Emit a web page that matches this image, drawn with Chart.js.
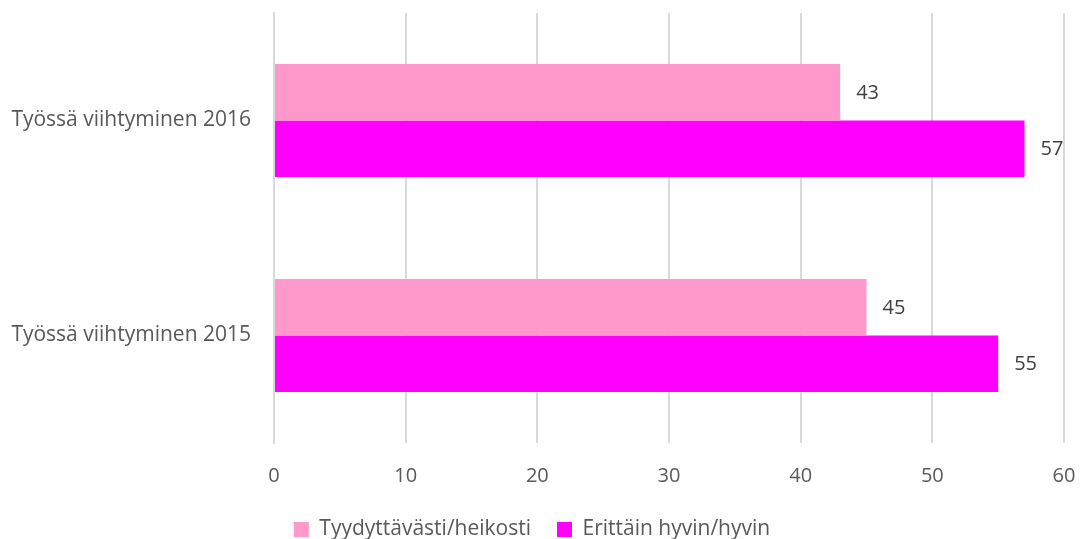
<!DOCTYPE html>
<html>
<head>
<meta charset="utf-8">
<script src="https://cdn.jsdelivr.net/npm/chart.js@4"></script>
<style>
  html, body { margin: 0; padding: 0; background: #fff; }
  #wrap { width: 1087px; height: 539px; }
</style>
</head>
<body>
<div id="wrap"><canvas id="myChart" width="1087" height="539"></canvas></div>
<script>
const categories = ["Työssä viihtyminen 2016", "Työssä viihtyminen 2015"];
const seriesNames = ["Tyydyttävästi/heikosti", "Erittäin hyvin/hyvin"];
const tyydyttavasti = [43, 45];
const erittainHyvin = [57, 55];
const xTicks = [0, 10, 20, 30, 40, 50, 60];

const textColor = "#595959";
const fontFamily = "'Open Sans', 'Noto Sans', sans-serif";

// draws the value next to the end of each bar
const barLabels = {
    id: "barLabels",
    afterDatasetsDraw(chart) {
        const ctx = chart.ctx;
        ctx.save();
        ctx.fillStyle = "#404040";
        ctx.font = "20px " + fontFamily;
        ctx.textAlign = "left";
        ctx.textBaseline = "middle";
        chart.data.datasets.forEach((ds, i) => {
            chart.getDatasetMeta(i).data.forEach((bar, j) => {
                ctx.fillText(String(ds.data[j]), bar.x + 16, bar.y + 1);
            });
        });
        ctx.restore();
    },
};

Chart.defaults.font.family = fontFamily;
Chart.defaults.color = textColor;

new Chart(document.getElementById("myChart"), {
    type: "bar",
    data: {
        labels: categories,
        datasets: [
            {
                label: seriesNames[0],
                data: tyydyttavasti,
                backgroundColor: "#FF99CC",
                borderWidth: 0,
            },
            {
                label: seriesNames[1],
                data: erittainHyvin,
                backgroundColor: "#FF00FF",
                borderWidth: 0,
            },
        ],
    },
    options: {
        indexAxis: "y",
        responsive: false,
        animation: false,
        categoryPercentage: 0.526,
        barPercentage: 1,
        layout: { padding: { top: 13, right: 23, left: 0, bottom: -11 } },
        scales: {
            x: {
                min: 0,
                max: 60,
                afterBuildTicks(axis) {
                    axis.ticks = xTicks.map((v) => ({ value: v }));
                },
                afterFit(axis) {
                    axis.paddingLeft = 0;
                    axis.paddingRight = 0;
                    axis.height = 50;
                },
                grid: { color: "#D9D9D9", lineWidth: 2, drawTicks: false },
                border: { display: false },
                ticks: { font: { size: 20 }, padding: 21 },
            },
            y: {
                grid: { display: false },
                border: { display: true, color: "#D9D9D9", width: 2 },
                ticks: { font: { size: 21 }, padding: 15 },
                afterFit(axis) {
                    axis.width = 274;
                    axis.paddingTop = 0;
                    axis.paddingBottom = 0;
                },
            },
        },
        plugins: {
            legend: {
                position: "bottom",
                labels: {
                    font: { size: 21 },
                    boxWidth: 15,
                    boxHeight: 15,
                    padding: 26,
                },
            },
            tooltip: { enabled: false },
        },
    },
    plugins: [barLabels],
});
</script>
</body>
</html>
